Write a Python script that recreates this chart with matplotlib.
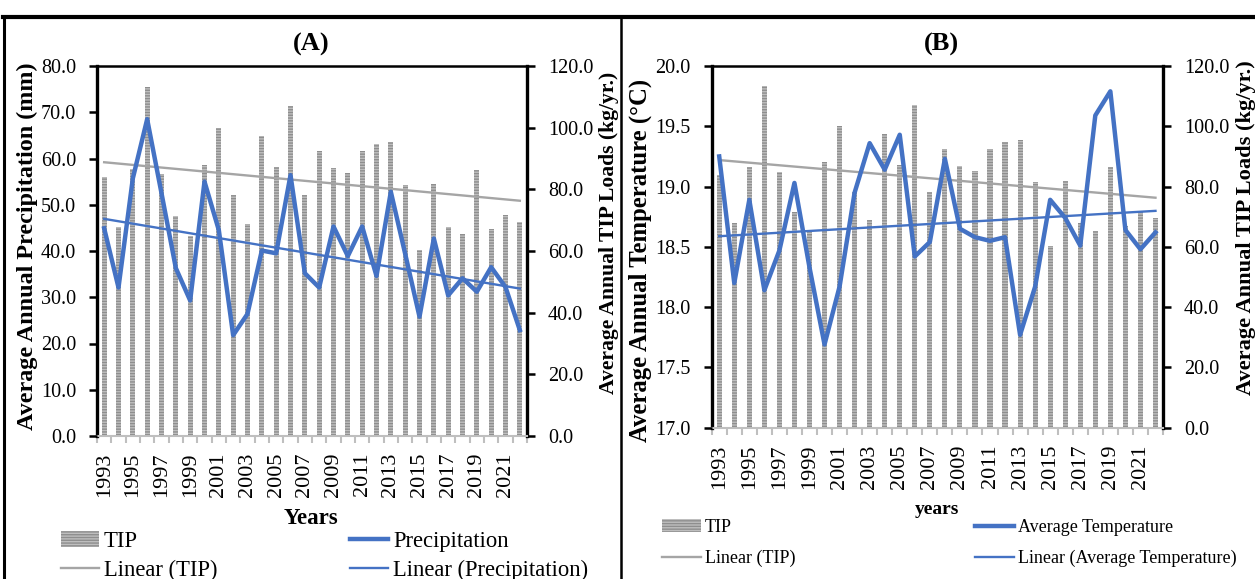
import numpy as np
import matplotlib
matplotlib.use("Agg")
import matplotlib.pyplot as plt
from matplotlib.lines import Line2D
from matplotlib.patches import Patch

plt.rcParams['font.family'] = ['Liberation Serif', 'DejaVu Serif']
plt.rcParams['hatch.linewidth'] = 1.0

# data
years = list(range(1993, 2023))
tip = [84.0, 67.8, 86.5, 113.3, 84.9, 71.4, 64.8, 88.0, 100.0, 78.3,
       68.9, 97.3, 87.2, 107.0, 78.3, 92.5, 86.8, 85.3, 92.4, 94.7,
       95.5, 81.4, 60.4, 81.8, 67.8, 65.4, 86.4, 67.0, 71.7, 69.5]
precip = [44.9, 32.1, 55.7, 68.5, 52.5, 36.3, 29.3, 55.0, 44.5, 21.8,
          26.4, 40.1, 39.5, 56.4, 35.2, 32.1, 45.3, 38.9, 45.3, 34.6,
          52.8, 39.4, 25.8, 42.7, 30.4, 34.1, 31.2, 36.5, 32.2, 22.9]
temp = [19.25, 18.20, 18.89, 18.14, 18.47, 19.03, 18.33, 17.69, 18.17, 18.95,
        19.36, 19.14, 19.43, 18.42, 18.54, 19.23, 18.65, 18.58, 18.55, 18.58,
        17.77, 18.17, 18.89, 18.74, 18.51, 19.59, 19.79, 18.64, 18.48, 18.62]
year_labels = [str(y) for y in years[::2]]

BLUE = '#4472C4'
GRAY = '#A5A5A5'
BAR_FACE = '#BEBEBE'
BAR_HATCH = '#8E8E8E'
W, H = 1255, 579

fig = plt.figure(figsize=(W / 100, H / 100), dpi=100)


def fx(x):
    return x / W


def fy(y):
    return 1 - y / H


def trend(x, y):
    k, b = np.polyfit(x, y, 1)
    return np.polyval([k, b], x)


def panel(rect, line_vals, ylim, yticks):
    ax = fig.add_axes(rect)
    ax2 = ax.twinx()
    x = np.array(years)

    # TIP bars + trend on the right-hand axis
    ax.bar(x, tip, width=0.34, facecolor=BAR_FACE, edgecolor=BAR_HATCH,
           hatch='------', linewidth=0, zorder=2)
    ax.plot(x, trend(x, tip), color=GRAY, lw=1.7, zorder=3)
    ax.set_ylim(0, 120)
    ax.set_yticks(np.arange(0, 121, 20))
    ax.set_yticklabels([f'{v:.1f}' for v in np.arange(0, 121, 20)])
    ax.yaxis.tick_right()
    ax.set_xlim(1992.5, 2022.5)
    ax.set_xticks(years[::2])
    ax.set_xticklabels(year_labels, rotation=90)
    ax.set_xticks(np.arange(1992.5, 2023, 1), minor=True)
    ax.tick_params(axis='x', which='major', length=0, pad=12, labelsize=16)
    ax.tick_params(axis='x', which='minor', length=5, width=1.5, color='#BFBFBF')
    ax.tick_params(axis='y', length=6, width=1.8, labelsize=14.5, pad=9)
    for s in ['left', 'right']:
        ax.spines[s].set_linewidth(2.4)
    ax.spines['top'].set_linewidth(1.8)
    ax.spines['bottom'].set_color('#BFBFBF')
    ax.spines['bottom'].set_linewidth(1.5)

    # main series + trend on the left-hand axis
    ax2.yaxis.tick_left()
    ax2.plot(x, line_vals, color=BLUE, lw=3.2, zorder=4)
    ax2.plot(x, trend(x, line_vals), color=BLUE, lw=1.7, zorder=4)
    ax2.set_ylim(*ylim)
    ax2.set_yticks(yticks)
    ax2.set_yticklabels([f'{v:.1f}' for v in yticks])
    ax2.tick_params(axis='y', length=6, width=1.8, labelsize=14.5, pad=9)
    for s in ax2.spines.values():
        s.set_visible(False)
    return ax, ax2


# panel A
panel([fx(97), fy(436), (527 - 97) / W, (436 - 66) / H], precip,
      (0, 80), np.arange(0, 81, 10))
# panel B
panel([fx(711.7), fy(427.7), (1163 - 711.7) / W, (427.7 - 66) / H], temp,
      (17, 20), np.arange(17, 20.01, 0.5))

# titles and axis titles
fig.text(fx(311), fy(44), '(A)', ha='center', va='center', fontsize=19, fontweight='bold')
fig.text(fx(941), fy(44), '(B)', ha='center', va='center', fontsize=19, fontweight='bold')
ylabels = [
    ('Average Annual Precipitation (mm)', 27, 246, 368),
    ('Average Annual TIP Loads (kg/yr.)', 609, 233, 323),
    ('Average Annual Temperature (°C)', 640, 260, 365),
    ('Average Annual TIP Loads (kg/yr.)', 1246, 228, 335),
]
ytexts = []
for s, x0, y0, length in ylabels:
    t = fig.text(fx(x0), fy(y0), s, rotation=90, ha='center', va='center',
                 fontsize=16, fontweight='bold')
    ytexts.append((t, length))
fig.canvas.draw()
renderer = fig.canvas.get_renderer()
for t, length in ytexts:
    h = t.get_window_extent(renderer).height
    t.set_fontsize(t.get_fontsize() * length / h)

fig.text(fx(311), fy(519), 'Years', ha='center', va='center', fontsize=16.5, fontweight='bold')
fig.text(fx(937), fy(510), 'years', ha='center', va='center', fontsize=14, fontweight='bold')

# legends
tip_h = Patch(facecolor=BAR_FACE, edgecolor=BAR_HATCH, hatch='------', linewidth=0)
lin_tip = Line2D([], [], color=GRAY, lw=1.7)
main_h = Line2D([], [], color=BLUE, lw=3.2)
lin_main = Line2D([], [], color=BLUE, lw=1.7)

legA = dict(frameon=False, fontsize=16.3, handlelength=1.68, handletextpad=0.22,
            labelspacing=0.33, borderpad=0, borderaxespad=0, loc='upper left')
fig.legend([tip_h, lin_tip], ['TIP', 'Linear (TIP)'],
           bbox_to_anchor=(fx(61), fy(531)), **legA)
fig.legend([main_h, lin_main], ['Precipitation', 'Linear (Precipitation)'],
           bbox_to_anchor=(fx(350), fy(531)), **legA)

legB = dict(frameon=False, fontsize=13, handlelength=2.15, handletextpad=0.22,
            labelspacing=0.78, borderpad=0, borderaxespad=0, loc='upper left')
fig.legend([tip_h, lin_tip], ['TIP', 'Linear (TIP)'],
           bbox_to_anchor=(fx(662), fy(519)), **legB)
fig.legend([main_h, lin_main], ['Average Temperature', 'Linear (Average Temperature)'],
           bbox_to_anchor=(fx(975), fy(519)), **legB)

# outer frame of the two chart boxes
for xs, ys, lw in [((3, W), (17, 17), 3), ((4, 4), (17, H), 2.2),
                   ((621, 621), (17, H), 1.8)]:
    fig.add_artist(Line2D([fx(xs[0]), fx(xs[1])], [fy(ys[0]), fy(ys[1])],
                          color='black', lw=lw, transform=fig.transFigure))

fig.savefig('out.png', dpi=100)
